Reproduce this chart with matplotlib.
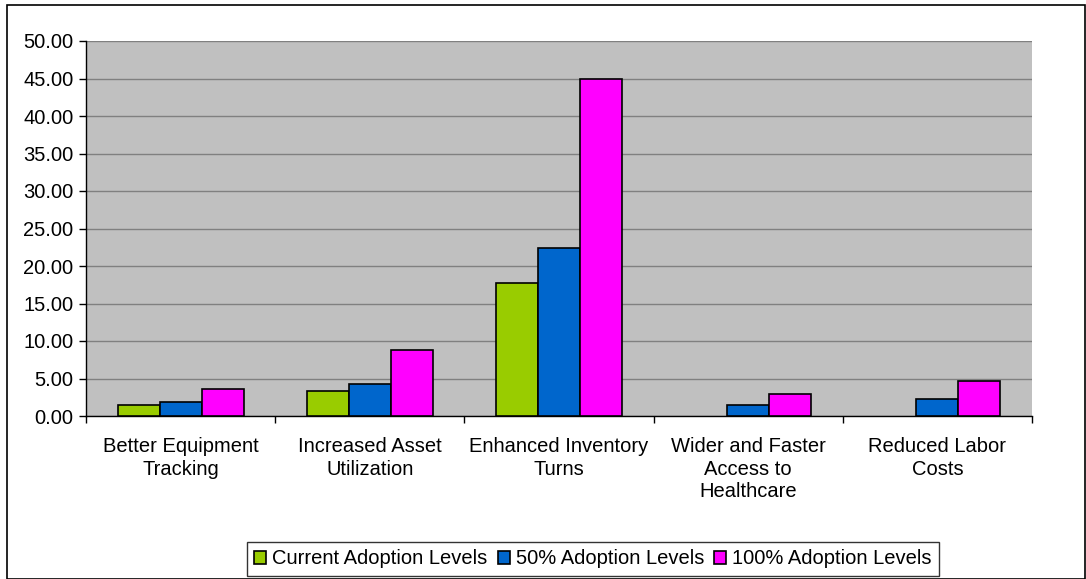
import matplotlib
matplotlib.use("Agg")
import matplotlib.pyplot as plt
import numpy as np
from matplotlib.patches import Rectangle

categories = ["Better Equipment\nTracking", "Increased Asset\nUtilization",
              "Enhanced Inventory\nTurns", "Wider and Faster\nAccess to\nHealthcare",
              "Reduced Labor\nCosts"]
series_names = ["Current Adoption Levels", "50% Adoption Levels", "100% Adoption Levels"]
current = [1.52, 3.39, 17.8, 0.0, 0.0]
half = [1.87, 4.23, 22.4, 1.52, 2.32]
full = [3.6, 8.75, 45.0, 2.98, 4.67]
colors = ["#99CC00", "#0066CC", "#FF00FF"]
yticks = [0, 5, 10, 15, 20, 25, 30, 35, 40, 45, 50]

plt.rcParams['font.family'] = ['Liberation Sans', 'DejaVu Sans']
FS = 14.5

W, H = 1086, 579
fig = plt.figure(figsize=(W/100, H/100), dpi=100)
ax = fig.add_axes([86/W, 1-416/H, (1032-86)/W, (416-41)/H])
ax.set_facecolor("#C0C0C0")

x = np.arange(len(categories))
bw = 1/4.5
for i, (vals, c, name) in enumerate(zip([current, half, full], colors, series_names)):
    bars = ax.bar(x + (i-1)*bw, vals, width=bw, color=c, edgecolor="black", linewidth=1.2,
                  label=name, zorder=3)
    for b in bars:
        if b.get_height() == 0:
            b.set_visible(False)

ax.set_xlim(-0.5, len(categories)-0.5)
ax.set_ylim(0, 50)
ax.set_yticks(yticks)
ax.set_yticklabels([f"{v:.2f}" for v in yticks], fontsize=FS)
ax.yaxis.grid(True, color="#808080", linewidth=1, zorder=1)
ax.set_axisbelow(True)

ax.set_xticks(x)
ax.set_xticklabels(categories, fontsize=FS, linespacing=1.25)
ax.tick_params(axis='x', length=0, pad=15)
ax.set_xticks(np.arange(-0.5, len(categories)), minor=True)
ax.tick_params(axis='x', which='minor', length=5, color='black', width=1)
ax.tick_params(axis='y', length=5, color='black', width=1, pad=4)

for s in ["top", "right"]:
    ax.spines[s].set_visible(False)
for s in ["left", "bottom"]:
    ax.spines[s].set_color("black")
    ax.spines[s].set_linewidth(1)

leg = fig.legend(loc="center", bbox_to_anchor=(593/W, 1-559/H), ncol=3, fontsize=FS,
                 frameon=True, fancybox=False, edgecolor="black", handlelength=0.6,
                 handleheight=0.6, handletextpad=0.3, columnspacing=0.5, borderpad=0.35)
leg.get_frame().set_linewidth(1)

fig.patches.append(Rectangle((7/W, 0), (W-8)/W, 1-5/H, transform=fig.transFigure,
                             fill=False, edgecolor="black", linewidth=1.2))

fig.savefig("out.png", dpi=100)
